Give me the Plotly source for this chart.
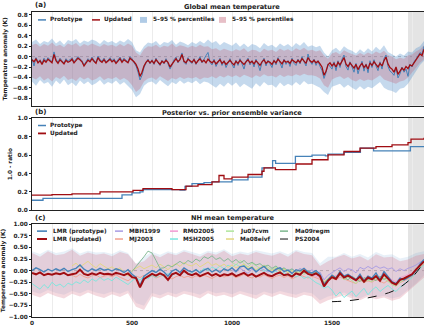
import plotly.graph_objects as go

# ---------------- DATA ----------------
YEARS_10 = list(range(0, 1961, 10))
YEARS_20 = list(range(0, 1961, 20))
YEARS_40 = list(range(0, 1961, 40))
INSTRUMENTAL_START = 1880
X_END = 1960

# Panel (a) global mean temperature (10-yr samples)
glob_updated = [
    -0.06, -0.10, -0.04, -0.12, -0.08, -0.15, -0.07, -0.11, -0.05, -0.09,
    -0.12, 0.04, -0.08, -0.13, -0.06, -0.10, -0.14, -0.07, -0.11, -0.09,
    -0.05, -0.12, -0.08, -0.03, -0.06, -0.10, -0.18, -0.12, -0.07, -0.10,
    -0.04, -0.09, -0.13, -0.02, -0.08, -0.11, -0.06, -0.12, -0.09, -0.05,
    -0.10, -0.07, -0.13, -0.08, -0.04, -0.11, -0.06, -0.09, -0.12, -0.03,
    -0.06, -0.10, -0.15, -0.24, -0.38, -0.30, -0.18, -0.11, -0.07, -0.12,
    -0.08, -0.13, -0.06, -0.10, -0.15, -0.09, -0.12, -0.07, -0.11, -0.20,
    -0.14, -0.08, -0.04, -0.10, -0.06, 0.04, -0.09, -0.12, -0.05, -0.08,
    -0.11, -0.06, -0.13, -0.08, -0.04, -0.10, -0.07, -0.12, -0.05, -0.09,
    -0.12, -0.08, -0.14, -0.10, -0.06, -0.13, -0.09, -0.15, -0.11, -0.07,
    -0.12, -0.16, -0.09, -0.13, -0.07, -0.11, -0.15, -0.10, -0.06, -0.12,
    -0.09, -0.14, -0.08, -0.12, -0.17, -0.10, -0.06, -0.13, -0.09, -0.11,
    -0.15, -0.08, -0.12, -0.05, -0.10, -0.14, -0.07, -0.11, -0.09, -0.13,
    -0.06, -0.10, -0.12, -0.07, -0.11, -0.04, -0.09, -0.13, -0.02, -0.08,
    -0.11, -0.07, -0.12, -0.09, -0.14, -0.20, -0.36, -0.28, -0.16, -0.12,
    -0.18, -0.13, -0.20, -0.11, -0.16, -0.09, -0.02, -0.14, -0.19, -0.12,
    -0.17, -0.22, -0.15, -0.25, -0.18, -0.13, -0.21, -0.16, -0.24, -0.12,
    -0.17, -0.10, -0.15, -0.20, -0.13, -0.18, -0.08, -0.01, -0.14, -0.21,
    -0.24, -0.30, -0.20, -0.34, -0.28, -0.22, -0.26, -0.19, -0.23, -0.16,
    -0.18, -0.12, -0.06, -0.02, 0.05, 0.02, 0.14,
]
glob_prototype = [
    -0.04, -0.18, -0.02, -0.10, -0.06, -0.13, -0.03, -0.09, -0.02, -0.07,
    -0.10, 0.09, -0.05, -0.11, -0.03, -0.08, -0.12, -0.04, -0.09, -0.06,
    -0.02, -0.10, -0.05, 0.00, -0.04, -0.08, -0.16, -0.10, -0.04, -0.08,
    -0.01, -0.07, -0.11, 0.01, -0.06, -0.09, -0.03, -0.10, -0.07, -0.02,
    -0.08, -0.04, -0.11, -0.06, -0.01, -0.09, -0.03, -0.07, -0.10, 0.00,
    -0.04, -0.12, -0.18, -0.30, -0.45, -0.36, -0.21, -0.12, -0.05, -0.14,
    -0.06, -0.15, -0.03, -0.12, -0.17, -0.07, -0.14, -0.04, -0.13, -0.24,
    -0.16, -0.06, -0.01, -0.12, -0.03, 0.07, -0.11, -0.15, -0.02, -0.10,
    -0.13, -0.04, -0.15, -0.06, 0.00, -0.12, -0.04, 0.02, 0.08, -0.11,
    -0.16, -0.05, -0.19, -0.12, -0.03, -0.17, -0.08, -0.21, -0.13, -0.04,
    -0.15, -0.22, -0.07, -0.17, -0.04, -0.14, -0.24, -0.09, -0.03, -0.16,
    -0.08, -0.20, -0.05, -0.15, -0.27, -0.11, -0.03, -0.18, -0.07, -0.14,
    -0.21, -0.06, -0.16, -0.02, -0.12, -0.22, -0.05, -0.15, -0.08, -0.19,
    -0.03, -0.13, -0.17, -0.05, -0.14, 0.00, -0.10, -0.18, 0.05, -0.09,
    -0.15, -0.05, -0.17, -0.08, -0.19, -0.27, -0.42, -0.31, -0.14, -0.18,
    -0.24, -0.10, -0.27, -0.08, -0.21, -0.05, 0.03, -0.19, -0.26, -0.10,
    -0.22, -0.30, -0.13, -0.33, -0.20, -0.09, -0.28, -0.14, -0.31, -0.08,
    -0.21, -0.06, -0.18, -0.27, -0.10, -0.24, -0.04, 0.03, -0.19, -0.28,
    -0.31, -0.36, -0.22, -0.41, -0.33, -0.20, -0.30, -0.24, -0.38, -0.15,
    -0.20, -0.10, -0.05, 0.02, 0.08, 0.05, 0.20,
]
# 5-95 % percentiles (20-yr samples)
glob_upd_hi = [
    0.22, 0.25, 0.19, 0.24, 0.21, 0.27, 0.20, 0.23, 0.18, 0.25,
    0.22, 0.26, 0.19, 0.24, 0.21, 0.25, 0.22, 0.19, 0.24, 0.21,
    0.23, 0.19, 0.24, 0.20, 0.25, 0.21, 0.08, 0.02, 0.14, 0.20,
    0.19, 0.23, 0.17, 0.21, 0.19, 0.25, 0.18, 0.22, 0.20, 0.17,
    0.21, 0.18, 0.23, 0.19, 0.20, 0.14, 0.16, 0.11, 0.15, 0.12,
    0.10, 0.14, 0.11, 0.16, 0.09, 0.13, 0.12, 0.08, 0.15, 0.11,
    0.13, 0.09, 0.15, 0.11, 0.14, 0.10, 0.16, 0.12, 0.17, 0.11,
    0.13, 0.10, 0.12, 0.02, -0.04, 0.06, 0.09, 0.04, 0.12, 0.08,
    0.05, 0.02, 0.07, 0.03, 0.08, 0.04, 0.10, 0.06, 0.11, 0.03,
    0.00, -0.05, -0.02, -0.04, 0.02, 0.04, 0.10, 0.14, 0.22,
]
glob_upd_lo = [
    -0.40, -0.44, -0.38, -0.46, -0.41, -0.48, -0.39, -0.43, -0.37, -0.45,
    -0.42, -0.47, -0.39, -0.44, -0.40, -0.46, -0.43, -0.38, -0.45, -0.41,
    -0.43, -0.39, -0.45, -0.41, -0.46, -0.55, -0.68, -0.62, -0.48, -0.42,
    -0.40, -0.45, -0.38, -0.43, -0.47, -0.41, -0.44, -0.39, -0.43, -0.40,
    -0.42, -0.39, -0.44, -0.40, -0.41, -0.38, -0.42, -0.37, -0.40, -0.36,
    -0.39, -0.36, -0.40, -0.35, -0.38, -0.41, -0.36, -0.39, -0.34, -0.38,
    -0.37, -0.40, -0.35, -0.39, -0.36, -0.38, -0.34, -0.37, -0.33, -0.36,
    -0.36, -0.38, -0.42, -0.55, -0.60, -0.44, -0.40, -0.38, -0.43, -0.39,
    -0.45, -0.48, -0.43, -0.47, -0.44, -0.46, -0.41, -0.36, -0.44, -0.47,
    -0.50, -0.52, -0.48, -0.46, -0.40, -0.32, -0.22, -0.12, -0.05,
]
glob_pro_hi = [
    0.28, 0.33, 0.24, 0.30, 0.27, 0.35, 0.25, 0.31, 0.23, 0.32,
    0.29, 0.34, 0.25, 0.31, 0.28, 0.33, 0.30, 0.24, 0.32, 0.27,
    0.30, 0.25, 0.31, 0.27, 0.34, 0.28, 0.12, 0.08, 0.20, 0.27,
    0.25, 0.30, 0.22, 0.28, 0.26, 0.32, 0.23, 0.29, 0.26, 0.22,
    0.28, 0.24, 0.30, 0.25, 0.33, 0.26, 0.30, 0.22, 0.28, 0.24,
    0.21, 0.27, 0.19, 0.25, 0.18, 0.24, 0.22, 0.16, 0.26, 0.20,
    0.23, 0.17, 0.25, 0.20, 0.24, 0.18, 0.26, 0.21, 0.28, 0.19,
    0.22, 0.18, 0.21, 0.08, 0.00, 0.12, 0.17, 0.10, 0.20, 0.14,
    0.11, 0.06, 0.14, 0.08, 0.16, 0.10, 0.19, 0.12, 0.22, 0.09,
    0.05, 0.00, 0.06, 0.02, 0.10, 0.08, 0.16, 0.20, 0.30,
]
glob_pro_lo = [
    -0.48, -0.56, -0.45, -0.52, -0.49, -0.58, -0.46, -0.53, -0.44, -0.55,
    -0.50, -0.57, -0.46, -0.53, -0.48, -0.55, -0.51, -0.45, -0.54, -0.49,
    -0.52, -0.46, -0.54, -0.49, -0.56, -0.64, -0.78, -0.72, -0.56, -0.50,
    -0.48, -0.54, -0.45, -0.51, -0.57, -0.49, -0.53, -0.46, -0.52, -0.48,
    -0.51, -0.46, -0.53, -0.48, -0.50, -0.55, -0.60, -0.52, -0.58, -0.50,
    -0.56, -0.50, -0.59, -0.52, -0.57, -0.62, -0.51, -0.58, -0.49, -0.55,
    -0.54, -0.60, -0.50, -0.57, -0.52, -0.56, -0.49, -0.55, -0.47, -0.53,
    -0.52, -0.56, -0.60, -0.68, -0.74, -0.58, -0.55, -0.52, -0.60, -0.54,
    -0.60, -0.64, -0.57, -0.63, -0.58, -0.61, -0.55, -0.49, -0.60, -0.64,
    -0.66, -0.70, -0.62, -0.60, -0.52, -0.40, -0.28, -0.16, -0.08,
]

# Panel (b) 1.0 - ratio (step changes)
var_pro_years = [0, 55, 450, 500, 540, 555, 740, 765, 800, 860, 900, 1000, 1080,
                 1150, 1203, 1218, 1317, 1400, 1467, 1480, 1560, 1642, 1708, 1892, 1960]
var_pro = [0.11, 0.13, 0.168, 0.19, 0.20, 0.225, 0.22, 0.26, 0.29, 0.30, 0.31, 0.33, 0.36,
           0.46, 0.54, 0.51, 0.585, 0.60, 0.59, 0.61, 0.63, 0.674, 0.645, 0.692, 0.692]
var_upd_years = [0, 100, 200, 340, 505, 555, 690, 700, 770, 830, 900, 935, 960, 1000,
                 1080, 1150, 1160, 1217, 1320, 1400, 1480, 1560, 1640, 1720, 1800, 1880,
                 1895, 1960]
var_upd = [0.165, 0.17, 0.18, 0.20, 0.217, 0.235, 0.235, 0.225, 0.264, 0.28, 0.31, 0.378,
           0.342, 0.36, 0.389, 0.424, 0.46, 0.442, 0.503, 0.549, 0.602, 0.638, 0.674,
           0.692, 0.709, 0.734, 0.773, 0.788]

# Panel (c) NH mean temperature (20-yr samples)
nh_updated = [
    -0.05, -0.08, -0.04, -0.10, -0.07, -0.09, -0.06, -0.08, -0.05, -0.10,
    -0.08, -0.06, 0.02, -0.07, -0.10, -0.06, -0.09, -0.05, -0.08, -0.07,
    -0.09, -0.05, -0.07, -0.10, -0.06, -0.14, -0.16, -0.36, -0.18, -0.12,
    -0.07, -0.11, -0.06, -0.10, -0.20, -0.08, -0.05, -0.10, 0.00, -0.07,
    -0.10, -0.06, -0.12, -0.08, -0.05, -0.11, -0.07, -0.12, -0.08, -0.10,
    -0.06, -0.12, -0.08, -0.05, -0.11, -0.07, -0.13, -0.09, -0.05, -0.10,
    -0.12, -0.07, -0.04, -0.10, -0.08, -0.13, -0.06, -0.09, 0.00, -0.07,
    -0.10, -0.06, -0.12, -0.34, -0.22, -0.14, -0.18, -0.06, -0.15, -0.11,
    -0.16, -0.21, -0.13, -0.24, -0.15, -0.19, -0.12, -0.22, -0.08, -0.17,
    -0.26, -0.30, -0.20, -0.17, -0.12, -0.08, 0.02, 0.12, 0.20,
]
nh_prototype = [
    0.00, 0.06, 0.02, -0.03, 0.03, -0.01, 0.04, 0.00, 0.05, -0.02,
    0.02, 0.05, 0.12, 0.03, -0.02, 0.04, 0.00, 0.05, 0.01, 0.03,
    -0.01, 0.04, 0.01, -0.04, 0.02, -0.08, -0.14, -0.32, -0.12, -0.05,
    0.00, -0.04, 0.03, -0.03, -0.12, -0.01, 0.03, -0.04, 0.06, 0.00,
    -0.03, 0.02, -0.05, 0.01, 0.05, -0.03, 0.02, -0.04, 0.04, 0.00,
    0.06, -0.02, 0.08, 0.10, 0.02, 0.07, -0.03, 0.04, 0.09, 0.01,
    -0.04, 0.03, 0.06, -0.02, 0.01, -0.06, 0.02, -0.01, 0.05, -0.03,
    -0.05, 0.00, -0.08, -0.30, -0.20, -0.10, -0.16, -0.02, -0.12, -0.08,
    -0.14, -0.20, -0.08, -0.22, -0.12, -0.16, -0.05, -0.20, -0.02, -0.14,
    -0.24, -0.28, -0.16, -0.20, -0.15, -0.10, 0.00, 0.14, 0.24,
]
# 5-95 % percentiles (40-yr samples)
nh_upd_hi = [
    0.38, 0.30, 0.42, 0.33, 0.36, 0.45, 0.32, 0.39, 0.34, 0.37,
    0.31, 0.40, 0.35, 0.15, 0.20, 0.36, 0.29, 0.38, 0.33, 0.41,
    0.36, 0.30, 0.39, 0.34, 0.43, 0.31, 0.37, 0.33, 0.40, 0.35,
    0.32, 0.38, 0.30, 0.42, 0.36, 0.33, 0.10, 0.20, 0.28, 0.34,
    0.26, 0.31, 0.22, 0.35, 0.28, 0.30, 0.20, 0.24, 0.32, 0.36,
]
nh_upd_lo = [
    -0.52, -0.58, -0.48, -0.55, -0.60, -0.50, -0.56, -0.47, -0.54, -0.59,
    -0.51, -0.57, -0.49, -0.78, -0.85, -0.55, -0.60, -0.52, -0.58, -0.50,
    -0.54, -0.60, -0.49, -0.56, -0.52, -0.58, -0.50, -0.55, -0.61, -0.51,
    -0.57, -0.50, -0.55, -0.59, -0.52, -0.56, -0.72, -0.64, -0.58, -0.53,
    -0.60, -0.64, -0.56, -0.62, -0.58, -0.65, -0.60, -0.45, -0.30, -0.15,
]
nh_pro_hi = [
    0.42, 0.36, 0.45, 0.38, 0.41, 0.48, 0.37, 0.43, 0.39, 0.40,
    0.36, 0.44, 0.38, 0.14, 0.30, 0.40, 0.34, 0.42, 0.37, 0.45,
    0.40, 0.35, 0.43, 0.39, 0.46, 0.36, 0.41, 0.38, 0.44, 0.40,
    0.37, 0.42, 0.35, 0.45, 0.40, 0.38, 0.16, 0.30, 0.30, 0.38,
    0.30, 0.36, 0.28, 0.40, 0.33, 0.35, 0.26, 0.30, 0.38, 0.42,
]
nh_pro_lo = [
    -0.45, -0.50, -0.42, -0.48, -0.52, -0.44, -0.49, -0.41, -0.47, -0.51,
    -0.45, -0.50, -0.43, -0.70, -0.76, -0.48, -0.53, -0.46, -0.51, -0.44,
    -0.47, -0.52, -0.43, -0.49, -0.46, -0.51, -0.44, -0.48, -0.53, -0.45,
    -0.50, -0.44, -0.48, -0.52, -0.46, -0.49, -0.64, -0.56, -0.51, -0.47,
    -0.55, -0.60, -0.52, -0.58, -0.54, -0.60, -0.56, -0.42, -0.28, -0.10,
]

# Other NH reconstructions
mbh1999_years = list(range(1000, 1961, 20))
mbh1999 = [
    0.02, -0.04, 0.05, 0.00, -0.06, 0.03, -0.02, 0.06, 0.01, -0.03,
    0.04, -0.01, 0.07, 0.02, -0.05, 0.03, -0.02, 0.05, 0.00, -0.04,
    0.02, -0.06, -0.03, -0.20, -0.10, -0.04, 0.01, 0.06, -0.02, 0.04,
    0.02, -0.05, 0.07, 0.03, 0.09, 0.04, 0.10, 0.05, 0.08, 0.03,
    0.06, -0.02, 0.04, 0.00, 0.05, 0.08, 0.12, 0.18, 0.22,
]
mj2003_years = list(range(200, 1961, 20))
mj2003 = [
    -0.10, -0.14, -0.08, -0.13, -0.16, -0.11, -0.09, -0.15, -0.12, -0.10,
    -0.13, -0.09, -0.14, -0.18, -0.22, -0.16, -0.12, -0.15, -0.10, -0.14,
    -0.11, -0.16, -0.12, -0.09, -0.14, -0.18, -0.13, -0.10, -0.15, -0.12,
    -0.16, -0.11, -0.14, -0.10, -0.13, -0.17, -0.12, -0.09, -0.14, -0.11,
    -0.10, -0.15, -0.12, -0.08, -0.13, -0.16, -0.11, -0.14, -0.09, -0.13,
    -0.17, -0.12, -0.10, -0.15, -0.11, -0.18, -0.14, -0.09, -0.13, -0.16,
    -0.12, -0.15, -0.19, -0.26, -0.22, -0.17, -0.20, -0.14, -0.18, -0.21,
    -0.24, -0.28, -0.20, -0.26, -0.22, -0.25, -0.19, -0.23, -0.27, -0.21,
    -0.30, -0.33, -0.26, -0.22, -0.18, -0.14, -0.05, 0.06, 0.14,
]
rmo2005_years = list(range(1400, 1961, 20))
rmo2005 = [
    -0.08, -0.12, -0.16, -0.24, -0.18, -0.14, -0.10, -0.15, -0.12, -0.09,
    -0.14, -0.19, -0.11, -0.17, -0.13, -0.16, -0.10, -0.18, -0.07, -0.13,
    -0.20, -0.24, -0.15, -0.12, -0.09, -0.05, 0.02, 0.10, 0.18,
]
msh2005_years = list(range(0, 1961, 20))
msh2005 = [
    -0.28, -0.35, -0.40, -0.30, -0.38, -0.25, -0.33, -0.29, -0.36, -0.27,
    -0.31, -0.24, -0.28, -0.20, -0.26, -0.18, -0.23, -0.15, -0.21, -0.17,
    -0.22, -0.14, -0.19, -0.25, -0.30, -0.22, -0.16, -0.20, -0.12, -0.18,
    -0.10, -0.15, -0.08, -0.13, -0.06, -0.11, -0.04, -0.09, -0.02, -0.07,
    -0.05, 0.02, -0.03, 0.05, 0.00, 0.08, 0.03, 0.10, 0.04, 0.12,
    0.06, 0.14, 0.08, 0.11, 0.03, 0.09, 0.01, 0.06, -0.02, 0.03,
    -0.05, -0.01, -0.08, -0.04, -0.11, -0.07, -0.14, -0.10, -0.17, -0.13,
    -0.20, -0.26, -0.30, -0.38, -0.34, -0.42, -0.55, -0.46, -0.58, -0.50,
    -0.44, -0.56, -0.48, -0.38, -0.52, -0.42, -0.35, -0.45, -0.38, -0.32,
    -0.40, -0.45, -0.36, -0.30, -0.22, -0.15, -0.05, 0.05, 0.12,
]
ju07cvm_years = list(range(1000, 1961, 20))
ju07cvm = [
    0.18, 0.12, 0.22, 0.15, 0.08, 0.16, 0.10, 0.05, 0.12, 0.07,
    0.02, 0.08, 0.00, 0.05, -0.04, 0.02, -0.06, -0.02, -0.08, -0.04,
    -0.10, -0.06, -0.14, -0.24, -0.18, -0.12, -0.16, -0.08, -0.20, -0.14,
    -0.22, -0.28, -0.18, -0.25, -0.20, -0.24, -0.15, -0.21, -0.17, -0.23,
    -0.30, -0.34, -0.25, -0.20, -0.16, -0.10, 0.00, 0.10, 0.18,
]
ma08eivf_years = list(range(200, 1961, 20))
ma08eivf = [
    0.10, 0.16, 0.08, 0.14, 0.20, 0.12, 0.06, 0.15, 0.09, 0.04,
    0.08, 0.02, 0.06, -0.04, -0.12, 0.00, 0.05, 0.10, 0.04, 0.08,
    0.12, 0.06, 0.14, 0.08, 0.02, 0.10, 0.15, 0.09, 0.18, 0.12,
    0.10, 0.16, 0.08, 0.13, 0.19, 0.11, 0.15, 0.09, 0.14, 0.07,
    0.12, 0.06, 0.10, 0.14, 0.05, 0.09, 0.02, 0.07, 0.11, 0.03,
    0.00, 0.05, -0.02, 0.03, -0.05, 0.00, -0.07, -0.03, 0.02, -0.04,
    -0.08, -0.04, -0.11, -0.24, -0.16, -0.10, -0.14, -0.06, -0.12, -0.09,
    -0.15, -0.20, -0.12, -0.18, -0.14, -0.17, -0.10, -0.16, -0.12, -0.18,
    -0.24, -0.28, -0.20, -0.16, -0.12, -0.08, 0.02, 0.10, 0.20,
]
ma09regm_years = list(range(500, 1961, 20))
ma09regm = [
    -0.02, 0.08, 0.18, 0.30, 0.42, 0.38, 0.22, 0.05, 0.06, 0.12,
    0.08, 0.15, 0.20, 0.14, 0.22, 0.17, 0.25, 0.20, 0.30, 0.26,
    0.32, 0.24, 0.28, 0.20, 0.26, 0.18, 0.24, 0.16, 0.22, 0.14,
    0.18, 0.12, 0.15, 0.08, 0.12, 0.05, 0.10, 0.02, 0.06, 0.00,
    0.04, -0.03, 0.02, -0.05, 0.00, -0.08, -0.03, -0.10, -0.28, -0.18,
    -0.10, -0.16, -0.08, -0.14, -0.20, -0.12, -0.18, -0.24, -0.15, -0.20,
    -0.16, -0.22, -0.12, -0.19, -0.14, -0.24, -0.28, -0.20, -0.17, -0.12,
    -0.08, 0.02, 0.12, 0.20,
]
ps2004_years = [1500, 1550, 1600, 1650, 1700, 1750, 1800, 1850, 1900, 1950]
ps2004 = [-0.67, -0.66, -0.64, -0.61, -0.57, -0.52, -0.45, -0.33, -0.15, 0.12]

# ---------------- STYLE ----------------
C_PRO = "#4682b8"
C_UPD = "#a00d12"
F_PRO = "rgba(80,140,200,0.33)"
F_UPD = "rgba(195,95,115,0.30)"
F_PRO_C = "rgba(80,140,200,0.13)"
F_UPD_C = "rgba(215,120,140,0.28)"
REC_COLORS = {
    "MBH1999": "#a79be3", "MJ2003": "#f2a08e", "RMO2005": "#f29ad2",
    "MSH2005": "#79e6de", "Ju07cvm": "#aee59a", "Ma08eivf": "#e3d67e",
    "Ma09regm": "#7db78e", "PS2004": "#111111",
}
FONT = "DejaVu Sans"
W, H = 424, 326
ML, MR, MT, MB = 32, 0, 12, 5
PW, PH = W - ML - MR, H - MT - MB

def px_x(p):
    return (p - ML) / PW

def px_y(p):
    return (H - MB - p) / PH

fig = go.Figure()

def band(x, hi, lo, color, name, xa, ya):
    fig.add_trace(go.Scatter(x=list(x) + list(x)[::-1], y=list(hi) + list(lo)[::-1],
                             fill="toself", fillcolor=color, line=dict(width=0),
                             mode="lines", name=name, showlegend=False,
                             hoverinfo="skip", xaxis=xa, yaxis=ya))

def line(x, y, color, width, name, xa, ya, shape="linear", dash=None):
    fig.add_trace(go.Scatter(x=x, y=y, mode="lines", name=name, showlegend=False,
                             line=dict(color=color, width=width, shape=shape, dash=dash),
                             xaxis=xa, yaxis=ya))

# Panel a
band(YEARS_20, glob_pro_hi, glob_pro_lo, F_PRO, "5-95 % percentiles (prototype)", "x", "y")
band(YEARS_20, glob_upd_hi, glob_upd_lo, F_UPD, "5-95 % percentiles (updated)", "x", "y")
line(YEARS_10, glob_prototype, C_PRO, 1.0, "Prototype", "x", "y")
line(YEARS_10, glob_updated, C_UPD, 1.3, "Updated", "x", "y")

# Panel b
line(var_pro_years, var_pro, C_PRO, 1.3, "Prototype", "x2", "y2", shape="hv")
line(var_upd_years, var_upd, C_UPD, 1.3, "Updated", "x2", "y2", shape="hv")

# Panel c
band(YEARS_40, nh_pro_hi, nh_pro_lo, F_PRO_C, "LMR (prototype) 5-95 %", "x3", "y3")
band(YEARS_40, nh_upd_hi, nh_upd_lo, F_UPD_C, "LMR (updated) 5-95 %", "x3", "y3")
recs = [
    ("MBH1999", mbh1999_years, mbh1999), ("MJ2003", mj2003_years, mj2003),
    ("RMO2005", rmo2005_years, rmo2005), ("MSH2005", msh2005_years, msh2005),
    ("Ju07cvm", ju07cvm_years, ju07cvm), ("Ma08eivf", ma08eivf_years, ma08eivf),
    ("Ma09regm", ma09regm_years, ma09regm),
]
for nm, xs, ys in recs:
    line(xs, ys, REC_COLORS[nm], 0.9, nm, "x3", "y3")
line(ps2004_years, ps2004, REC_COLORS["PS2004"], 1.0, "PS2004", "x3", "y3", shape="spline", dash="dash")
line(YEARS_20, nh_prototype, C_PRO, 1.4, "LMR (prototype)", "x3", "y3")
line(YEARS_20, nh_updated, C_UPD, 2.0, "LMR (updated)", "x3", "y3")

# ---------------- LAYOUT ----------------
domains = {
    "": [px_y(107), px_y(12)],
    "2": [px_y(213), px_y(119.5)],
    "3": [px_y(321), px_y(227)],
}
tickfont = dict(family=FONT, size=5.8, color="#222", weight="bold")
axcommon = dict(showline=True, linecolor="#222", linewidth=1, zeroline=False)

layout = dict(width=W, height=H, margin=dict(l=ML, r=MR, t=MT, b=MB),
              paper_bgcolor="white", plot_bgcolor="white", showlegend=False,
              font=dict(family=FONT, size=6, color="#222", weight="bold"))
yranges = {"": [-0.945, 0.857], "2": [0, 1], "3": [-1, 1]}
yticks = {"": [round(-0.8 + 0.2 * i, 1) for i in range(9)],
          "2": [0, 0.2, 0.4, 0.6, 0.8, 1.0],
          "3": [-1, -0.75, -0.5, -0.25, 0, 0.25, 0.5, 0.75, 1.0]}
yfmt = {"": ".1f", "2": ".1f", "3": ".2f"}
ytitles = {"": "Temperature anomaly (K)", "2": "1.0 - ratio", "3": "Temperature anomaly (K)"}
for k in ["", "2", "3"]:
    layout["xaxis" + k] = dict(axcommon, range=[0, X_END], domain=[0, 1], anchor="y" + k,
                               mirror=True, showgrid=True, gridcolor="#ececec", gridwidth=0.6,
                               tickvals=list(range(0, 1961, 100)),
                               ticktext=[str(v) if v % 500 == 0 else "" for v in range(0, 1961, 100)],
                               showticklabels=(k == "3"), ticks="", tickfont=tickfont)
    layout["yaxis" + k] = dict(axcommon, range=yranges[k], domain=domains[k], anchor="x" + k,
                               mirror=False, showgrid=False, tickvals=yticks[k],
                               tickformat=yfmt[k], ticks="outside", ticklen=2,
                               tickcolor="#222", tickfont=tickfont,
                               title=dict(text=ytitles[k], standoff=4,
                                          font=dict(family=FONT, size=5.8, weight="bold")))
layout["xaxis2"]["matches"] = "x"
layout["xaxis3"]["matches"] = "x"

shapes = []
for k in ["", "2", "3"]:
    shapes.append(dict(type="rect", xref="x" + k, yref="y" + k + " domain",
                       x0=INSTRUMENTAL_START, x1=X_END, y0=0, y1=1,
                       fillcolor="#e4e4e4", line=dict(width=0), layer="below"))
for k in ["", "3"]:
    shapes.append(dict(type="line", xref="x" + k + " domain", yref="y" + k,
                       x0=0, x1=1, y0=0, y1=0, line=dict(color="#aaaaaa", width=0.8, dash="dot"),
                       layer="below"))

annotations = []

def txt(xp, yp, text, size=5.8, anchor="left"):
    annotations.append(dict(xref="paper", yref="paper", x=px_x(xp), y=px_y(yp), text=text,
                            showarrow=False, xanchor=anchor, yanchor="middle",
                            font=dict(family=FONT, size=size, color="#222", weight="bold")))

def leg_line(xp, yp, color, width=1.5, dash=None, length=8):
    shapes.append(dict(type="line", xref="paper", yref="paper", x0=px_x(xp), x1=px_x(xp + length),
                       y0=px_y(yp), y1=px_y(yp), line=dict(color=color, width=width, dash=dash)))

def leg_box(xp, yp, color):
    shapes.append(dict(type="rect", xref="paper", yref="paper", x0=px_x(xp), x1=px_x(xp + 7),
                       y0=px_y(yp + 3), y1=px_y(yp - 3), fillcolor=color, line=dict(width=0)))

# titles
txt(33, 5, "(a)", size=7)
txt(232, 6.5, "Global mean temperature", size=6.6, anchor="center")
txt(33, 113, "(b)", size=7)
txt(232, 114, "Posterior vs. prior ensemble variance", size=6.6, anchor="center")
txt(33, 221, "(c)", size=7)
txt(233, 221, "NH mean temperature", size=6.6, anchor="center")

# legend a
leg_line(38, 20, C_PRO); txt(48, 20, "Prototype")
leg_line(92, 20, C_UPD); txt(102, 20, "Updated")
leg_box(140, 20, "rgba(80,140,200,0.45)"); txt(151, 20, "5–95 % percentiles")
leg_box(219, 20, "rgba(195,95,115,0.40)"); txt(230, 20, "5–95 % percentiles")
# legend b
leg_line(38, 127, C_PRO); txt(48, 127, "Prototype")
leg_line(38, 135, C_UPD, width=1.8); txt(48, 135, "Updated")
# legend c
leg_line(37, 234, C_PRO, width=1.6, length=10); txt(51, 234, "LMR (prototype)")
leg_line(37, 242, C_UPD, width=2.0, length=10); txt(51, 242, "LMR (updated)")
leg_line(115, 234, REC_COLORS["MBH1999"]); txt(127, 234, "MBH1999")
leg_line(115, 242, REC_COLORS["MJ2003"]); txt(127, 242, "MJ2003")
leg_line(170, 234, REC_COLORS["RMO2005"]); txt(181, 234, "RMO2005")
leg_line(170, 242, REC_COLORS["MSH2005"]); txt(181, 242, "MSH2005")
leg_line(226, 234, REC_COLORS["Ju07cvm"]); txt(238, 234, "Ju07cvm")
leg_line(226, 242, REC_COLORS["Ma08eivf"]); txt(238, 242, "Ma08eivf")
leg_line(280, 234, REC_COLORS["Ma09regm"]); txt(293, 234, "Ma09regm")
leg_line(280, 242, REC_COLORS["PS2004"], width=1.0, dash="dash"); txt(293, 242, "PS2004")

layout["shapes"] = shapes
layout["annotations"] = annotations
fig.update_layout(**layout)
fig.write_html("out.html")
